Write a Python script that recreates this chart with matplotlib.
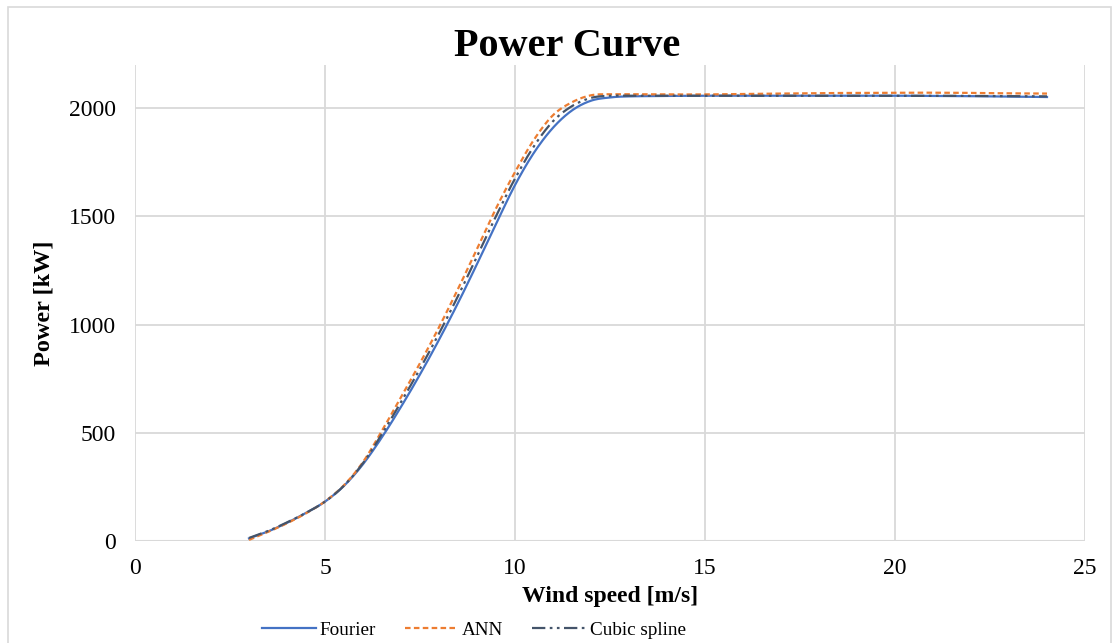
import numpy as np
import matplotlib
matplotlib.use('Agg')
from matplotlib import pyplot as plt
from matplotlib.patches import Rectangle

plt.rcParams['font.family'] = ['Liberation Serif', 'DejaVu Serif']

# wind speed [m/s]
wind = [3, 3.5, 4, 4.5, 5, 5.5, 6, 6.5, 7, 7.5, 8, 8.5, 9, 9.5, 10, 10.5, 11, 11.5, 12, 12.5,
        13, 14, 15, 16, 17, 18, 19, 20, 21, 22, 23, 24]

fourier = [12, 44, 84, 130, 182, 255, 355, 480, 620, 770, 930, 1100, 1280, 1465, 1645, 1795, 1910, 1990, 2035, 2050,
           2055, 2057, 2058, 2058, 2058, 2058, 2058, 2058, 2057, 2056, 2054, 2052]
ann = [5, 42, 82, 128, 183, 258, 365, 510, 665, 822, 988, 1165, 1350, 1537, 1705, 1855, 1968, 2028, 2060, 2065,
       2065, 2064, 2064, 2066, 2068, 2070, 2071, 2072, 2072, 2071, 2069, 2068]
cubic = [14, 46, 86, 130, 182, 256, 360, 495, 642, 796, 959, 1132, 1315, 1501, 1675, 1825, 1940, 2010, 2048, 2058,
         2058, 2058, 2058, 2058, 2058, 2058, 2058, 2058, 2058, 2057, 2056, 2055]

xticks = [0, 5, 10, 15, 20, 25]
yticks = [0, 500, 1000, 1500, 2000]


def smooth(x, y, n=20):
    # catmull-rom like excel's smoothed line
    x = np.asarray(x, float)
    y = np.asarray(y, float)
    px = np.concatenate([[2*x[0]-x[1]], x, [2*x[-1]-x[-2]]])
    py = np.concatenate([[2*y[0]-y[1]], y, [2*y[-1]-y[-2]]])
    t = np.linspace(0, 1, n, endpoint=False)
    xs, ys = [], []
    for i in range(1, len(px)-2):
        for p, out in ((px, xs), (py, ys)):
            p0, p1, p2, p3 = p[i-1], p[i], p[i+1], p[i+2]
            out.append(0.5*((2*p1) + (-p0+p2)*t + (2*p0-5*p1+4*p2-p3)*t**2 + (-p0+3*p1-3*p2+p3)*t**3))
    xs.append([x[-1]])
    ys.append([y[-1]])
    return np.concatenate(xs), np.concatenate(ys)


fig = plt.figure(figsize=(11.19, 6.43), dpi=100)
ax = fig.add_axes([135/1119, 1-541/643, 950/1119, 476/643])

ax.plot(*smooth(wind, fourier), color='#4472C4', lw=1.6, label='Fourier')
ax.plot(*smooth(wind, ann), color='#ED7D31', lw=1.6, dashes=(2.5, 1.5), label='ANN')
ax.plot(*smooth(wind, cubic), color='#44546A', lw=1.6, dashes=(6, 2, 1.2, 2, 1.2, 2), label='Cubic spline')

ax.set_xlim(0, 25)
ax.set_ylim(0, 2200)
ax.set_xticks(xticks)
ax.set_yticks(yticks)
ax.grid(True, color='#d9d9d9', lw=1.3)
ax.set_axisbelow(True)
for s in ax.spines.values():
    s.set_visible(False)
ax.axhline(0, color='#d9d9d9', lw=1.5, zorder=0.5)
ax.tick_params(length=0, labelsize=17, pad=14)
ax.tick_params(axis='x', pad=12)

ax.set_xlabel('Wind speed [m/s]', fontsize=17, fontweight='bold', labelpad=5)
ax.set_ylabel('Power [kW]', fontsize=17.5, fontweight='bold', labelpad=10)
fig.text(567/1119, 1 - 47/643, 'Power Curve', ha='center', va='center',
         fontsize=29, fontweight='bold')

fig.legend(loc='center', bbox_to_anchor=(474/1119, 1 - 630/643), ncol=3, frameon=False,
           fontsize=13.8, handlelength=2.8, columnspacing=1.5, handletextpad=0.2)

fig.patches.append(Rectangle((8/1119, -0.01), 1103/1119, 1 - 7/643 + 0.01, transform=fig.transFigure,
                             fill=False, edgecolor='#d9d9d9', lw=1.2))

plt.savefig('out.png', dpi=100)
